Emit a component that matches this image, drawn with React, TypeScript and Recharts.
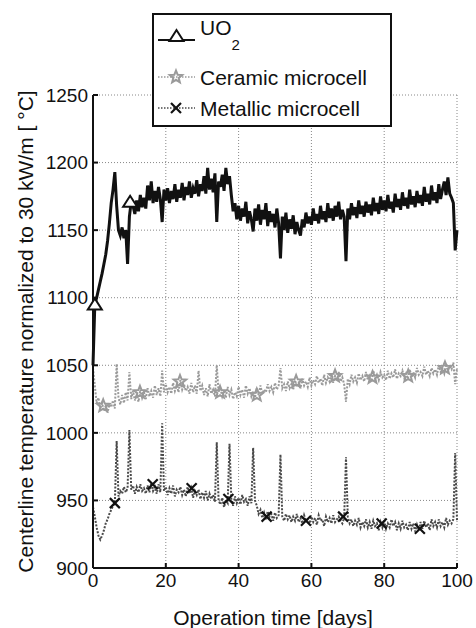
import {
  CartesianGrid,
  ComposedChart,
  Legend,
  Line,
  Scatter,
  XAxis,
  YAxis,
} from "recharts";

// sampling interval of the temperature traces (days)
const STEP_DAYS = 0.5;

const X_TICKS = [0, 20, 40, 60, 80, 100];
const Y_TICKS = [900, 950, 1000, 1050, 1100, 1150, 1200, 1250];
const SERIES_NAMES = ["UO2", "Ceramic microcell", "Metallic microcell"];

// centerline temperature, one value every half day from day 0 to day 100
const UO2_TEMPS = [
  1050, 1095, 1100, 1106, 1112, 1118, 1125, 1132, 1142, 1155,
  1170, 1180, 1193, 1168, 1150, 1146, 1152, 1144, 1150, 1125,
  1160, 1171, 1168, 1162, 1172, 1164, 1176, 1167, 1174, 1166,
  1183, 1172, 1186, 1170, 1179, 1171, 1182, 1173, 1156, 1180,
  1172, 1181, 1170, 1179, 1173, 1184, 1171, 1180, 1174, 1185,
  1172, 1182, 1176, 1186, 1174, 1181, 1177, 1187, 1175, 1184,
  1179, 1190, 1177, 1196, 1180, 1188, 1178, 1192, 1156, 1186,
  1182, 1191, 1179, 1196, 1184, 1190, 1176, 1164, 1170, 1158,
  1168, 1157, 1166, 1160, 1171, 1155, 1164, 1158, 1149, 1166,
  1157, 1169, 1154, 1165, 1158, 1170, 1153, 1164, 1156, 1162,
  1152, 1166, 1155, 1129, 1160, 1150, 1163, 1148, 1158, 1151,
  1161, 1147, 1156, 1150, 1146, 1158, 1152, 1163, 1155, 1160,
  1154, 1166, 1157, 1162, 1155, 1168, 1158, 1164, 1156, 1170,
  1159, 1166, 1157, 1168, 1160, 1171, 1158, 1165, 1160, 1127,
  1166, 1158, 1170, 1161, 1167, 1159, 1172, 1162, 1168, 1160,
  1171, 1163, 1169, 1161, 1174, 1164, 1170, 1162, 1175, 1165,
  1172, 1164, 1176, 1166, 1171, 1163, 1177, 1167, 1173, 1165,
  1178, 1168, 1174, 1166, 1180, 1169, 1175, 1167, 1179, 1170,
  1176, 1168, 1182, 1171, 1177, 1169, 1183, 1172, 1178, 1170,
  1184, 1173, 1180, 1186, 1176, 1189, 1177, 1174, 1170, 1135,
  1150,
];

const CERAMIC_TEMPS = [
  1048, 1035, 1022, 1026, 1018, 1022, 1016, 1020, 1015, 1021,
  1019, 1024, 1018, 1051, 1026, 1021, 1028, 1022, 1030, 1024,
  1045, 1025, 1031, 1024, 1029, 1023, 1032, 1026, 1030, 1025,
  1033, 1027, 1031, 1026, 1035, 1028, 1033, 1027, 1046, 1030,
  1036, 1030, 1034, 1029, 1037, 1031, 1035, 1030, 1039, 1032,
  1036, 1031, 1034, 1029, 1037, 1030, 1035, 1029, 1046, 1031,
  1035, 1028, 1033, 1027, 1036, 1029, 1032, 1027, 1050, 1030,
  1033, 1027, 1031, 1026, 1034, 1028, 1032, 1025, 1030, 1027,
  1034, 1028, 1032, 1026, 1035, 1029, 1033, 1027, 1031, 1026,
  1033, 1028, 1035, 1029, 1032, 1030, 1036, 1031, 1034, 1030,
  1037, 1032, 1035, 1048, 1033, 1036, 1031, 1038, 1033, 1036,
  1032, 1039, 1034, 1037, 1033, 1040, 1035, 1038, 1034, 1041,
  1035, 1039, 1036, 1042, 1037, 1040, 1035, 1043, 1037, 1041,
  1038, 1044, 1037, 1042, 1039, 1045, 1038, 1041, 1036, 1023,
  1040, 1036, 1043, 1038, 1041, 1037, 1044, 1039, 1042, 1038,
  1045, 1039, 1042, 1038, 1046, 1040, 1043, 1039, 1045, 1041,
  1043, 1039, 1046, 1040, 1044, 1041, 1047, 1040, 1044, 1042,
  1046, 1041, 1044, 1040, 1047, 1042, 1045, 1041, 1048, 1043,
  1045, 1042, 1049, 1043, 1046, 1042, 1048, 1044, 1047, 1043,
  1050, 1045, 1048, 1044, 1051, 1046, 1049, 1047, 1052, 1036,
  1048,
];

const METALLIC_TEMPS = [
  945, 938, 930, 924, 921, 924, 928, 933, 936, 940,
  943, 946, 948, 994, 953, 957, 955, 960, 956, 959,
  1002, 958, 961, 955, 960, 956, 962, 957, 959, 955,
  961, 956, 963, 957, 960, 955, 962, 956, 1007, 957,
  960, 954, 959, 955, 961, 953, 958, 956, 960, 954,
  958, 953, 960, 955, 959, 952, 957, 954, 958, 951,
  956, 952, 957, 950, 955, 951, 954, 949, 993, 950,
  947, 952, 945, 950, 948, 992, 951, 946, 953, 948,
  952, 947, 954, 949, 951, 946, 953, 948, 989, 950,
  946, 940, 943, 937, 941, 936, 942, 938, 940, 935,
  941, 937, 939, 984, 938, 935, 940, 936, 939, 934,
  938, 935, 940, 934, 937, 933, 939, 935, 936, 933,
  938, 934, 937, 932, 939, 935, 936, 931, 938, 934,
  937, 933, 939, 934, 936, 938, 935, 933, 937, 982,
  938, 933, 936, 931, 935, 932, 937, 930, 934, 931,
  936, 930, 934, 929, 935, 931, 933, 928, 934, 930,
  935, 929, 933, 930, 936, 931, 934, 928, 933, 929,
  935, 930, 932, 928, 934, 929, 933, 927, 932, 928,
  934, 929, 935, 930, 933, 928, 936, 931, 934, 930,
  936, 931, 934, 930, 937, 932, 935, 933, 936, 985,
  935,
];

// marker positions along each trace
const UO2_MARK_DAYS = [0.5, 10.2];
const UO2_MARK_TEMPS = [1095, 1171];
const CERAMIC_MARK_DAYS = [2.8, 12.9, 23.9, 34.9, 45, 55.8, 66.5, 76.8, 86.6, 96.7];
const CERAMIC_MARK_TEMPS = [1020, 1030, 1038, 1030, 1028, 1038, 1042, 1041, 1042, 1048];
const METALLIC_MARK_DAYS = [6, 16.4, 27.1, 37.2, 47.7, 58.5, 68.7, 79.3, 89.8];
const METALLIC_MARK_TEMPS = [948, 962, 959, 951, 938, 935, 938, 933, 929];

const FONT = "'Liberation Sans', Arial, Helvetica, sans-serif";
const INK = "#111";
const CERAMIC_GREY = "#9a9a9a";
const METALLIC_GREY = "#4a4a4a";

const toTrace = (temps: number[]) => temps.map((t, i) => ({ x: i * STEP_DAYS, y: t }));
const toMarks = (days: number[], temps: number[]) => days.map((d, i) => ({ x: d, y: temps[i] }));

const uo2Trace = toTrace(UO2_TEMPS);
const ceramicTrace = toTrace(CERAMIC_TEMPS);
const metallicTrace = toTrace(METALLIC_TEMPS);
const uo2Marks = toMarks(UO2_MARK_DAYS, UO2_MARK_TEMPS);
const ceramicMarks = toMarks(CERAMIC_MARK_DAYS, CERAMIC_MARK_TEMPS);
const metallicMarks = toMarks(METALLIC_MARK_DAYS, METALLIC_MARK_TEMPS);

function Triangle({ cx, cy }: any) {
  return (
    <polygon
      points={`${cx},${cy - 6} ${cx - 7},${cy + 5} ${cx + 7},${cy + 5}`}
      fill="#fff"
      stroke={INK}
      strokeWidth={2}
    />
  );
}

function Star({ cx, cy }: any) {
  const pts: string[] = [];
  for (let k = 0; k < 10; k++) {
    const r = k % 2 === 0 ? 6.5 : 2.8;
    const a = -Math.PI / 2 + (k * Math.PI) / 5;
    pts.push(`${cx + r * Math.cos(a)},${cy + r * Math.sin(a)}`);
  }
  return <polygon points={pts.join(" ")} fill="none" stroke={CERAMIC_GREY} strokeWidth={2} />;
}

function Cross({ cx, cy }: any) {
  const s = 5;
  return (
    <g stroke={INK} strokeWidth={2.2}>
      <line x1={cx - s} y1={cy - s} x2={cx + s} y2={cy + s} />
      <line x1={cx - s} y1={cy + s} x2={cx + s} y2={cy - s} />
    </g>
  );
}

function YTitle({ viewBox }: any) {
  const x = viewBox.x - 8;
  const y = viewBox.y + viewBox.height / 2;
  return (
    <text
      x={x}
      y={y}
      transform={`rotate(-90 ${x} ${y})`}
      textAnchor="middle"
      dominantBaseline="central"
      fontFamily={FONT}
      fontSize={21}
      fill={INK}
    >
      Centerline temperature normalized to 30 kW/m [ °C]
    </text>
  );
}

function XTitle({ viewBox }: any) {
  const x = viewBox.x + viewBox.width / 2 - 2;
  const y = viewBox.y + 49;
  return (
    <text x={x} y={y} textAnchor="middle" dominantBaseline="central" fontFamily={FONT} fontSize={21} fill={INK}>
      Operation time [days]
    </text>
  );
}

function LegendBox() {
  return (
    <div
      style={{
        width: 240,
        height: 114,
        boxSizing: "border-box",
        border: `2px solid ${INK}`,
        background: "#fff",
      }}
    >
      <svg width={236} height={110} style={{ display: "block" }}>
        <g transform="translate(-2,-2)">
          <line x1={6} y1={27} x2={43} y2={27} stroke={INK} strokeWidth={2} />
          <Triangle cx={24.5} cy={23} />
          <text x={48} y={22} fontFamily={FONT} fontSize={21} fill={INK}>
            UO
            <tspan fontSize={15} dy={15}>2</tspan>
          </text>

          <line x1={6} y1={64} x2={43} y2={64} stroke={CERAMIC_GREY} strokeWidth={1.5} strokeDasharray="1.5 1.5" />
          <Star cx={24} cy={64} />
          <text x={48} y={64} dominantBaseline="central" fontFamily={FONT} fontSize={21} fill={INK}>
            {SERIES_NAMES[1]}
          </text>

          <line x1={6} y1={95} x2={43} y2={95} stroke={METALLIC_GREY} strokeWidth={1.5} strokeDasharray="1.5 1.5" />
          <Cross cx={24} cy={95} />
          <text x={48} y={95} dominantBaseline="central" fontFamily={FONT} fontSize={21} fill={INK}>
            {SERIES_NAMES[2]}
          </text>
        </g>
      </svg>
    </div>
  );
}

const tickStyle = { fontFamily: FONT, fontSize: 19, fill: INK };

export default function App() {
  return (
    <div style={{ position: "absolute", left: 0, top: 0, background: "#fff" }}>
      <ComposedChart
        width={476}
        height={628}
        margin={{ top: 95, right: 19, bottom: 30, left: 33 }}
      >
        <CartesianGrid stroke="#888" strokeDasharray="1 2" strokeWidth={1} />
        <XAxis
          dataKey="x"
          type="number"
          domain={[0, 100]}
          ticks={X_TICKS}
          height={30}
          tickSize={-5}
          tickMargin={11}
          tick={tickStyle}
          stroke={INK}
          axisLine={{ stroke: INK, strokeWidth: 2 }}
          tickLine={{ stroke: INK, strokeWidth: 2 }}
          label={<XTitle />}
        />
        <XAxis
          xAxisId="top"
          orientation="top"
          type="number"
          domain={[0, 100]}
          ticks={X_TICKS}
          height={0}
          tickSize={-5}
          tick={false}
          axisLine={{ stroke: INK, strokeWidth: 2 }}
          tickLine={{ stroke: INK, strokeWidth: 2 }}
        />
        <YAxis
          type="number"
          domain={[900, 1250]}
          ticks={Y_TICKS}
          width={60}
          tickSize={-5}
          tickMargin={10}
          tick={tickStyle}
          axisLine={{ stroke: INK, strokeWidth: 2 }}
          tickLine={{ stroke: INK, strokeWidth: 2 }}
          label={<YTitle />}
        />
        <YAxis
          yAxisId="right"
          orientation="right"
          type="number"
          domain={[900, 1250]}
          ticks={Y_TICKS}
          width={0}
          tickSize={-5}
          tick={false}
          axisLine={{ stroke: INK, strokeWidth: 2 }}
          tickLine={{ stroke: INK, strokeWidth: 2 }}
        />

        <Line
          data={metallicTrace}
          dataKey="y"
          name={SERIES_NAMES[2]}
          stroke={METALLIC_GREY}
          strokeWidth={2}
          strokeDasharray="2 1.5"
          dot={false}
          activeDot={false}
          isAnimationActive={false}
        />
        <Line
          data={ceramicTrace}
          dataKey="y"
          name={SERIES_NAMES[1]}
          stroke={CERAMIC_GREY}
          strokeWidth={2}
          strokeDasharray="2 1.5"
          dot={false}
          activeDot={false}
          isAnimationActive={false}
        />
        <Line
          data={uo2Trace}
          dataKey="y"
          name={SERIES_NAMES[0]}
          stroke={INK}
          strokeWidth={3}
          dot={false}
          activeDot={false}
          isAnimationActive={false}
        />
        <Scatter data={metallicMarks} dataKey="y" shape={<Cross />} legendType="none" isAnimationActive={false} />
        <Scatter data={ceramicMarks} dataKey="y" shape={<Star />} legendType="none" isAnimationActive={false} />
        <Scatter data={uo2Marks} dataKey="y" shape={<Triangle />} legendType="none" isAnimationActive={false} />

        <Legend
          layout="vertical"
          align="center"
          verticalAlign="middle"
          content={<LegendBox />}
          wrapperStyle={{ left: 152, top: 13, width: 240, height: 114 }}
        />
      </ComposedChart>
    </div>
  );
}
